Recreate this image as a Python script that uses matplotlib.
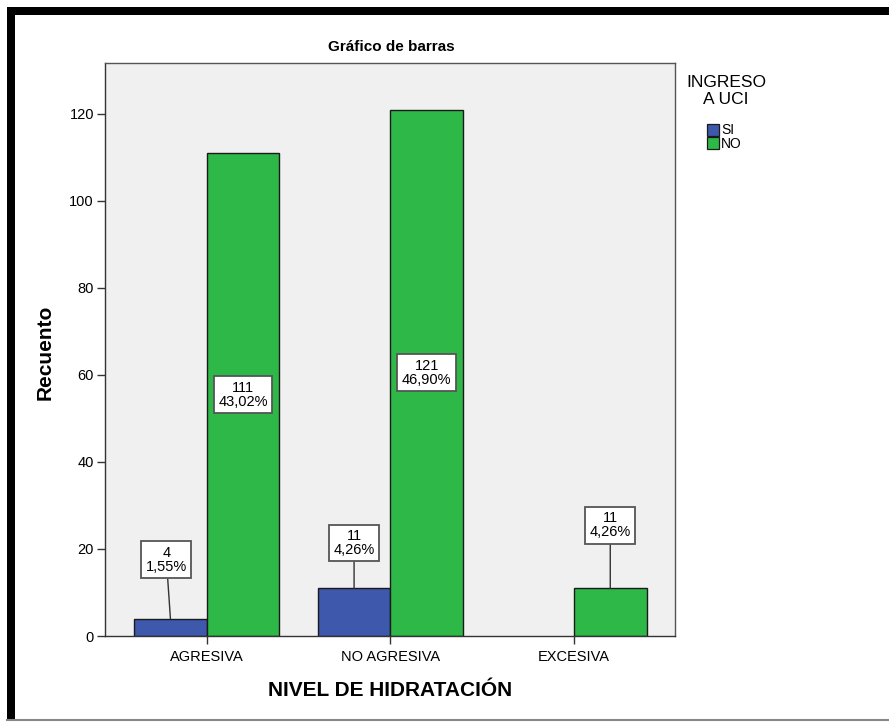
import matplotlib
matplotlib.use("Agg")
import matplotlib.pyplot as plt
from matplotlib.patches import Rectangle
from matplotlib.lines import Line2D

# ---- data ----
categories = ["AGRESIVA", "NO AGRESIVA", "EXCESIVA"]
series_names = ["SI", "NO"]
si_counts = [4, 11, 0]
no_counts = [111, 121, 11]
y_ticks = [0, 20, 40, 60, 80, 100, 120]

title = "Gráfico de barras"
x_label = "NIVEL DE HIDRATACIÓN"
y_label = "Recuento"
legend_title = "INGRESO\nA UCI"

# ---- style / layout ----
COL_SI = "#3E58AC"
COL_NO = "#2EB848"
BG = "#F0F0F0"
FONT = "Liberation Sans"
plt.rcParams["font.family"] = [FONT, "DejaVu Sans"]

W, H = 889, 722
fig = plt.figure(figsize=(W / 100, H / 100), dpi=100)
fig.patch.set_facecolor("white")

def fx(px):
    return px / W

def fy(py):
    return 1 - py / H

ax = fig.add_axes([fx(105), fy(636), fx(675) - fx(105), fy(63) - fy(636)])
ax.set_facecolor(BG)

bw = 0.395
xs = list(range(len(categories)))
total = sum(si_counts) + sum(no_counts)

for offset, counts, col in [(-bw / 2, si_counts, COL_SI), (bw / 2, no_counts, COL_NO)]:
    px = [x + offset for x, v in zip(xs, counts) if v > 0]
    pv = [v for v in counts if v > 0]
    ax.bar(px, pv, width=bw, color=col, edgecolor="#1a1a1a", linewidth=1.0, zorder=2)

ax.set_xlim(-0.5538, 2.55)
ax.set_ylim(0, 131.7)
ax.set_yticks(y_ticks)
ax.set_yticklabels([str(t) for t in y_ticks], fontsize=10.5)
ax.set_xticks(xs)
ax.set_xticklabels(categories, fontsize=10.5)
ax.tick_params(axis="both", direction="out", length=6, width=1, color="#333333", pad=2)
ax.tick_params(axis="x", pad=4)
for s in ax.spines.values():
    s.set_color("#555555")
    s.set_linewidth(1.0)
ax.spines["bottom"].set_color("#333333")
ax.spines["left"].set_color("#333333")

# label boxes
label_layout = {
    (0, 0): (17.5, -0.022),
    (0, 1): (21.4, 0.0),
    (1, 2): (25.4, 0.0),
}

def fmt_pct(v):
    return f"{100 * v / total:.2f}".replace(".", ",") + "%"

box = dict(boxstyle="square,pad=0.3", fc="white", ec="#555555", lw=1.3)
for si_idx, counts in enumerate([si_counts, no_counts]):
    for i, v in enumerate(counts):
        if v == 0:
            continue
        xc = i - bw / 2 if si_idx == 0 else i + bw / 2
        txt = f"{v}\n{fmt_pct(v)}"
        if (si_idx, i) in label_layout:
            ty, dx = label_layout[(si_idx, i)]
            ax.annotate(txt, xy=(xc, v), xytext=(xc + dx, ty),
                        ha="center", va="center", fontsize=10.5, linespacing=1.0,
                        bbox=box,
                        arrowprops=dict(arrowstyle="-", color="#333333", lw=1.0,
                                        shrinkA=0, shrinkB=0),
                        zorder=4)
        else:
            ax.text(xc, v / 2, txt, ha="center", va="center", fontsize=10.5,
                    linespacing=1.0, bbox=box, zorder=4)

# titles
fig.text(fx(391), fy(47), title, ha="center", va="center", fontsize=11,
         fontweight="bold")
fig.text(fx(45), fy(352), y_label, ha="center", va="center", rotation=90,
         fontsize=15, fontweight="bold")
fig.text(fx(390), fy(690), x_label, ha="center", va="center", fontsize=15,
         fontweight="bold")

# legend
fig.text(fx(726), fy(91), legend_title, ha="center", va="center", fontsize=12.5,
         linespacing=1.1)
for k, (name, col) in enumerate(zip(series_names, [COL_SI, COL_NO])):
    top = 124 + k * 13
    fig.add_artist(Rectangle((fx(707), fy(top + 12)), fx(12), 12 / H,
                             transform=fig.transFigure, fc=col, ec="#1a1a1a", lw=0.9))
    fig.text(fx(721), fy(top + 6.5), name, ha="left", va="center", fontsize=10)

# outer frame
fig.add_artist(Rectangle((fx(7), fy(720)), fx(8), 713 / H, transform=fig.transFigure,
                         fc="black", ec="none"))
fig.add_artist(Rectangle((fx(7), fy(15)), fx(882), 8 / H, transform=fig.transFigure,
                         fc="black", ec="none"))
fig.add_artist(Line2D([fx(7), 1], [fy(719.5), fy(719.5)], transform=fig.transFigure,
                      color="#888888", lw=1.5))

fig.savefig("out.png", dpi=100)
